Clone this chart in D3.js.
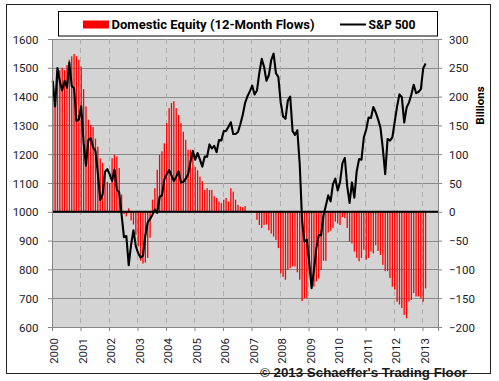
<!DOCTYPE html>
<html><head><meta charset="utf-8">
<script src="https://cdn.jsdelivr.net/npm/d3@7"></script>
<style>body{margin:0;background:#fff}svg{display:block}</style>
</head><body>
<script>
const startYear = 2000;
const yearLabels = ["2000","2001","2002","2003","2004","2005","2006","2007","2008","2009","2010","2011","2012","2013"];
const leftTicks = [600,700,800,900,1000,1100,1200,1300,1400,1500,1600];
const rightTicks = [-200,-150,-100,-50,0,50,100,150,200,250,300];
const seriesNames = ["Domestic Equity (12-Month Flows)", "S&P 500"];
// monthly, Jan 2000 .. Feb 2013, billions
const flows = [
 200,192,246,246,250,246,255,264,270,274,270,264,
 252,213,183,160,151,147,127,113,93,85,70,52,
 50,93,99,96,76,30,-4,-8,6,-15,-22,-40,
 -60,-85,-90,-88,-80,-45,21,41,73,99,105,119,
 154,180,189,192,180,168,154,139,125,108,108,104,
 78,72,61,53,38,41,38,38,27,24,18,15,
 21,24,18,41,35,21,12,9,8,10,0,0,
 0,0,-14,-23,-28,-23,-22,-32,-38,-43,-49,-63,
 -107,-113,-118,-101,-98,-95,-95,-105,-118,-155,-150,-150,
 -107,-128,-130,-121,-116,-101,-85,-85,-36,-33,-28,-17,
 -20,-23,-9,-11,-28,-52,-55,-69,-80,-86,-80,-66,
 -83,-80,-69,-72,-58,-68,-75,-92,-103,-103,-115,-130,
 -135,-156,-161,-167,-179,-185,-156,-153,-141,-147,-147,-150,
 -156,-133];
const spx = [
 1455,1366,1499,1452,1421,1455,1431,1518,1437,1429,1315,1320,
 1366,1240,1160,1249,1256,1224,1211,1134,1041,1060,1139,1148,
 1130,1107,1147,1077,1067,990,912,916,815,886,936,880,
 856,841,848,917,964,975,990,1008,996,1051,1058,1112,
 1131,1145,1126,1107,1121,1141,1102,1104,1115,1130,1174,1212,
 1181,1204,1181,1157,1192,1191,1234,1220,1229,1207,1249,1248,
 1280,1281,1295,1311,1270,1270,1277,1304,1336,1378,1401,1418,
 1438,1407,1421,1482,1531,1503,1455,1474,1527,1549,1481,1468,
 1379,1331,1323,1386,1400,1280,1267,1283,1166,969,896,903,
 826,735,798,873,919,919,987,1021,1057,1036,1096,1115,
 1074,1104,1169,1187,1089,1031,1102,1049,1141,1183,1181,1258,
 1286,1327,1326,1364,1345,1321,1292,1219,1131,1253,1247,1258,
 1312,1366,1408,1398,1310,1362,1379,1407,1441,1412,1416,1426,
 1498,1515];

const W = 499, H = 381;
const L = 52, R = 438, T = 39, B = 327;
const svg = d3.select("body").append("svg").attr("width", W).attr("height", H);
const FONT = "Roboto, 'Liberation Sans', sans-serif";

const x = d3.scaleLinear().domain([2000, 2013.544]).range([L, R]);
const yL = d3.scaleLinear().domain([600, 1600]).range([B, T]);
const yR = d3.scaleLinear().domain([-200, 300]).range([B, T]);
const tm = i => startYear + (i + 0.3) / 12;

// outer border
svg.append("rect").attr("x", 6.5).attr("y", 4.5).attr("width", 484).attr("height", 369)
  .attr("fill", "#fff").attr("stroke", "#222").attr("stroke-width", 1);

// plot bg
svg.append("rect").attr("x", L).attr("y", T).attr("width", R - L).attr("height", B - T).attr("fill", "#d4d4d4");

// horizontal gridlines
svg.append("g").selectAll("line").data(leftTicks.filter(v => v > 600)).join("line")
  .attr("x1", L).attr("x2", R).attr("y1", d => Math.round(yL(d)) + 0.5).attr("y2", d => Math.round(yL(d)) + 0.5)
  .attr("stroke", "#8a8a8a").attr("stroke-width", 1);

// vertical dashed gridlines
const yearVals = yearLabels.map(Number);
svg.append("g").selectAll("line").data(yearVals.filter(v => v > 2000)).join("line")
  .attr("x1", d => Math.round(x(d)) + 0.5).attr("x2", d => Math.round(x(d)) + 0.5).attr("y1", T).attr("y2", B)
  .attr("stroke", "#acacac").attr("stroke-width", 1).attr("stroke-dasharray", "5,4");

// bars
svg.append("g").selectAll("rect").data(flows).join("rect")
  .attr("x", (d, i) => x(tm(i)) - 0.65).attr("width", 1.3)
  .attr("y", d => yR(Math.max(0, d))).attr("height", d => Math.abs(yR(d) - yR(0)))
  .attr("fill", "#ff0000");

// zero line
svg.append("line").attr("x1", L).attr("x2", R).attr("y1", yR(0)).attr("y2", yR(0))
  .attr("stroke", "#000").attr("stroke-width", 2);

// S&P line
svg.append("path").datum(spx)
  .attr("d", d3.line().x((d, i) => x(tm(i))).y(d => yL(d)))
  .attr("fill", "none").attr("stroke", "#000").attr("stroke-width", 2.1).attr("stroke-linejoin", "round");

// axes
const axCol = "#868686";
const gl = svg.append("g").attr("transform", `translate(${L},0)`).call(d3.axisLeft(yL).tickValues(leftTicks).tickSize(4).tickFormat(d3.format("d")));
const gr = svg.append("g").attr("transform", `translate(${R},0)`).call(d3.axisRight(yR).tickValues(rightTicks).tickSize(4).tickFormat(d3.format("d")));
const gb = svg.append("g").attr("transform", `translate(0,${B})`).call(d3.axisBottom(x).tickValues(yearVals).tickSize(4).tickFormat((d, i) => yearLabels[i]));
[gl, gr, gb].forEach(g => {
  g.select(".domain").attr("stroke", axCol);
  g.selectAll(".tick line").attr("stroke", axCol);
  g.selectAll("text").attr("font-family", FONT).attr("font-size", 11.5).attr("fill", "#1a1a2a");
});
gl.selectAll("text").attr("x", -13.5).attr("dy", "0.36em");
gr.selectAll("text").attr("x", 11).attr("dy", "0.36em");
gb.selectAll("text").attr("text-anchor", "end")
  .attr("x", -11).attr("y", 0).attr("dy", "0.35em").attr("dx", 0)
  .attr("transform", "rotate(-90) translate(0,1.5)");

// Billions label
svg.append("text").attr("transform", "translate(484,105.5) rotate(-90)").attr("text-anchor", "middle")
  .attr("font-family", FONT).attr("font-weight", "bold").attr("font-size", 11.5).attr("fill", "#000").text("Billions");

// legend
const lg = svg.append("g");
lg.append("rect").attr("x", 58.5).attr("y", 11.5).attr("width", 379).attr("height", 24.5)
  .attr("fill", "#fff").attr("stroke", "#000").attr("stroke-width", 1);
lg.append("rect").attr("x", 83).attr("y", 20.5).attr("width", 26).attr("height", 8).attr("fill", "#ff0000");
lg.append("text").attr("x", 111.5).attr("y", 28.5).attr("font-family", FONT).attr("font-weight", "bold")
  .attr("font-size", 12.5).attr("textLength", 203).attr("lengthAdjust", "spacingAndGlyphs").attr("fill", "#000").text(seriesNames[0]);
lg.append("line").attr("x1", 340).attr("x2", 366).attr("y1", 24.5).attr("y2", 24.5).attr("stroke", "#000").attr("stroke-width", 2);
lg.append("text").attr("x", 368.5).attr("y", 28.5).attr("font-family", FONT).attr("font-weight", "bold")
  .attr("font-size", 12.5).attr("textLength", 47).attr("lengthAdjust", "spacingAndGlyphs").attr("fill", "#000").text(seriesNames[1]);

// credit
svg.append("text").attr("x", 260).attr("y", 376.5).attr("font-family", "'Liberation Sans', Arial, sans-serif")
  .attr("font-weight", "bold").attr("font-size", 12.5).attr("textLength", 207).attr("lengthAdjust", "spacingAndGlyphs")
  .attr("fill", "#1a1a1a").text("\u00A9 2013 Schaeffer's Trading Floor");
</script>
</body></html>
